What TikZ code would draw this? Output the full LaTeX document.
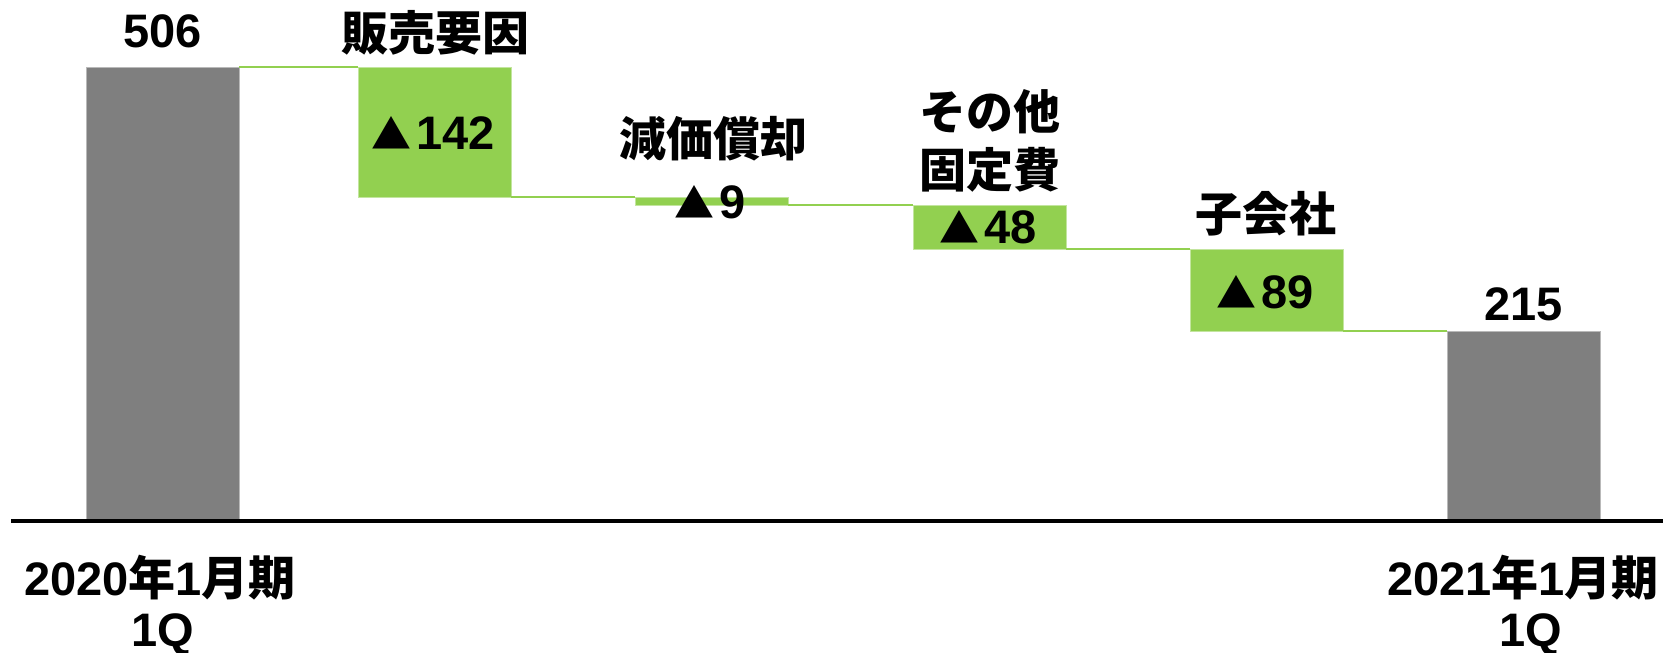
\documentclass[tikz,border=0pt]{standalone}
\usepackage{fontspec}
\setmainfont{Liberation Sans}
\newfontfamily\cjk{Noto Sans CJK JP}
\definecolor{barGray}{RGB}{127,127,127}
\definecolor{barGreen}{RGB}{146,208,80}
\newcommand{\tri}{{\cjk\fontsize{40}{40}\selectfont ▲}\kern5pt}
\begin{document}
\begin{tikzpicture}[x=1pt,y=-1pt,
  bar/.style={inner sep=0pt,outer sep=0pt,anchor=north west,minimum width=153pt},
  graybar/.style={bar,fill=barGray,draw=barGray!55!white,line width=0.8pt},
  greenbar/.style={bar,fill=barGreen,draw=barGreen!55!white,line width=0.8pt},
  conn/.style={draw=barGreen,line width=2.6pt},
  lbl/.style={inner sep=0pt,outer sep=0pt,align=center,font=\fontsize{47}{58}\selectfont\bfseries},
  axisline/.style={line width=4.8pt,black}]
\useasboundingbox (0,0) rectangle (1663,653);
% bars
\node[graybar,minimum height=452pt] (b0) at (86,67) {};
\node[greenbar,minimum height=130pt] (b1) at (358,67) {};
\node[greenbar,minimum height=8pt] (b2) at (635,197) {};
\node[greenbar,minimum height=44pt] (b3) at (913,205) {};
\node[greenbar,minimum height=82pt] (b4) at (1190,249) {};
\node[graybar,minimum height=188pt] (b5) at (1447,331) {};
% connectors
\draw[conn] (b0.north east) -- (b1.north west);
\draw[conn] (b1.south east) -- (b2.north west);
\draw[conn] (b2.south east) -- (b3.north west);
\draw[conn] (b3.south east) -- (b4.north west);
\draw[conn] (b4.south east) -- (b5.north west);
% axis
\coordinate (axL) at (11,521);
\coordinate (axR) at (1663,521);
\draw[axisline] (axL) -- (axR);
% value labels
\node[lbl,anchor=base] (v0) at (162.5,47) {506};
\node[lbl,anchor=base] (v1) at (433,149) {\tri142};
\node[lbl,anchor=base] (v2) at (710,218) {\tri9};
\node[lbl,anchor=base] (v3) at (988,243) {\tri48};
\node[lbl,anchor=base] (v4) at (1265,308) {\tri89};
\node[lbl,anchor=base] (v5) at (1523.5,320) {215};
% category labels
\node[lbl] (c1) at (435,33) {\cjk 販売要因};
\node[lbl] (c2) at (713,139) {\cjk 減価償却};
\node[lbl] (c3) at (990,141) {\cjk その他\\\cjk 固定費};
\node[lbl] (c4) at (1266,214) {\cjk 子会社};
% period labels
\node[lbl,anchor=base] (p0a) at (160,595) {2020{\cjk 年}1{\cjk 月期}};
\node[lbl,anchor=base] (p0b) at (162.5,646) {1Q};
\node[lbl,anchor=base] (p5a) at (1523,595) {2021{\cjk 年}1{\cjk 月期}};
\node[lbl,anchor=base] (p5b) at (1531,646) {1Q};
\end{tikzpicture}
\end{document}
